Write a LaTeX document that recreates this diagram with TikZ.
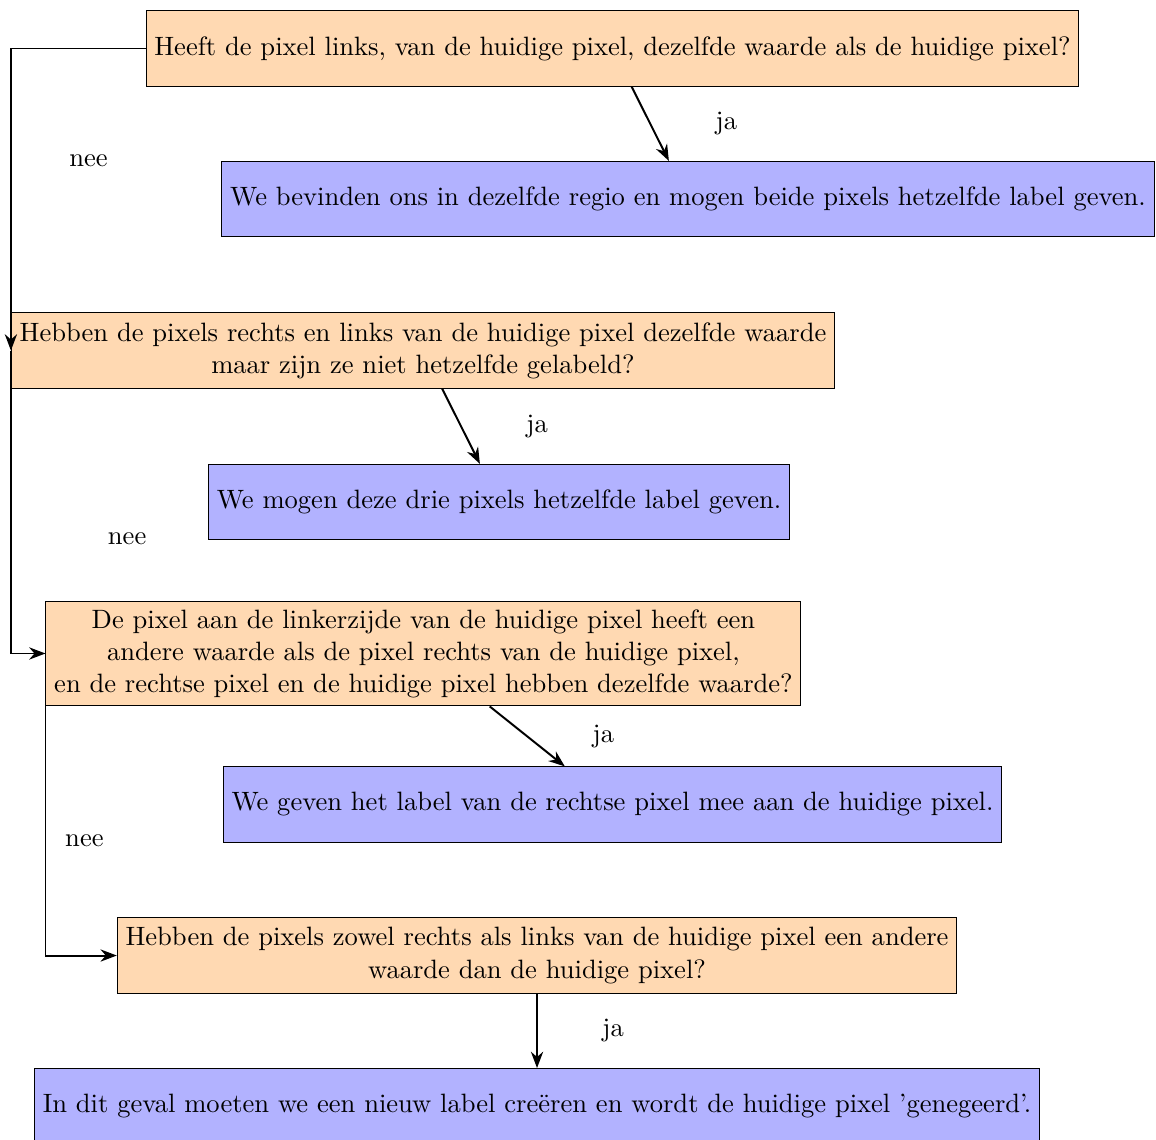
\documentclass[tikz,border=0pt]{standalone}
\usepackage{tikz}
\usetikzlibrary{arrows.meta,positioning}

\begin{document}
\begin{tikzpicture}[font=\fontsize{10.75pt}{13pt}\selectfont,
    vraag/.style={draw, fill=orange!30, minimum height=1.07cm, align=center},
    actie/.style={draw, fill=blue!30, minimum height=1.07cm, align=center},
    pijl/.style={thick, -{Stealth}}]
  \useasboundingbox (0,0) rectangle (16.45,-16.21);
  \node[vraag] (q1) at (8.716,-0.690) {Heeft de pixel links, van de huidige pixel, dezelfde waarde als de huidige pixel?};
  \node[actie] (a1) at (9.790,-2.832) {We bevinden ons in dezelfde regio en mogen beide pixels hetzelfde label geven.};
  \node[vraag] (q2) at (6.019,-4.988) {Hebben de pixels rechts en links van de huidige pixel dezelfde waarde\\ maar zijn ze niet hetzelfde gelabeld?};
  \node[actie] (a2) at (7.101,-7.143) {We mogen deze drie pixels hetzelfde label geven.};
  \node[vraag] (q3) at (6.026,-9.299) {De pixel aan de linkerzijde van de huidige pixel heeft een\\ andere waarde als de pixel rechts van de huidige pixel,\\ en de rechtse pixel en de huidige pixel hebben dezelfde waarde?};
  \node[actie] (a3) at (8.716,-11.448) {We geven het label van de rechtse pixel mee aan de huidige pixel.};
  \node[vraag] (q4) at (7.642,-13.597) {Hebben de pixels zowel rechts als links van de huidige pixel een andere\\ waarde dan de huidige pixel?};
  \node[actie] (a4) at (7.642,-15.74) {In dit geval moeten we een nieuw label creëren en wordt de huidige pixel 'genegeerd'.};

  % ja
  \draw[pijl] (q1) -- (a1) node[pos=0.5, right=0.8cm] {ja};
  \draw[pijl] (q2) -- (a2) node[pos=0.5, right=0.8cm] {ja};
  \draw[pijl] (q3) -- (a3) node[pos=0.5, right=0.8cm] {ja};
  \draw[pijl] (q4) -- (a4) node[pos=0.5, right=0.8cm] {ja};
  % nee
  \draw[pijl] (q1.west) -| (q2.west) node[pos=0.685, right=0.7cm] {nee};
  \draw[pijl] (q2.west) |- (q3.west) node[pos=0.31, right=1.25cm] {nee};
  \draw[pijl] (q3.west) |- (q4.west) node[pos=0.31, right=0.15cm] {nee};
\end{tikzpicture}
\end{document}
